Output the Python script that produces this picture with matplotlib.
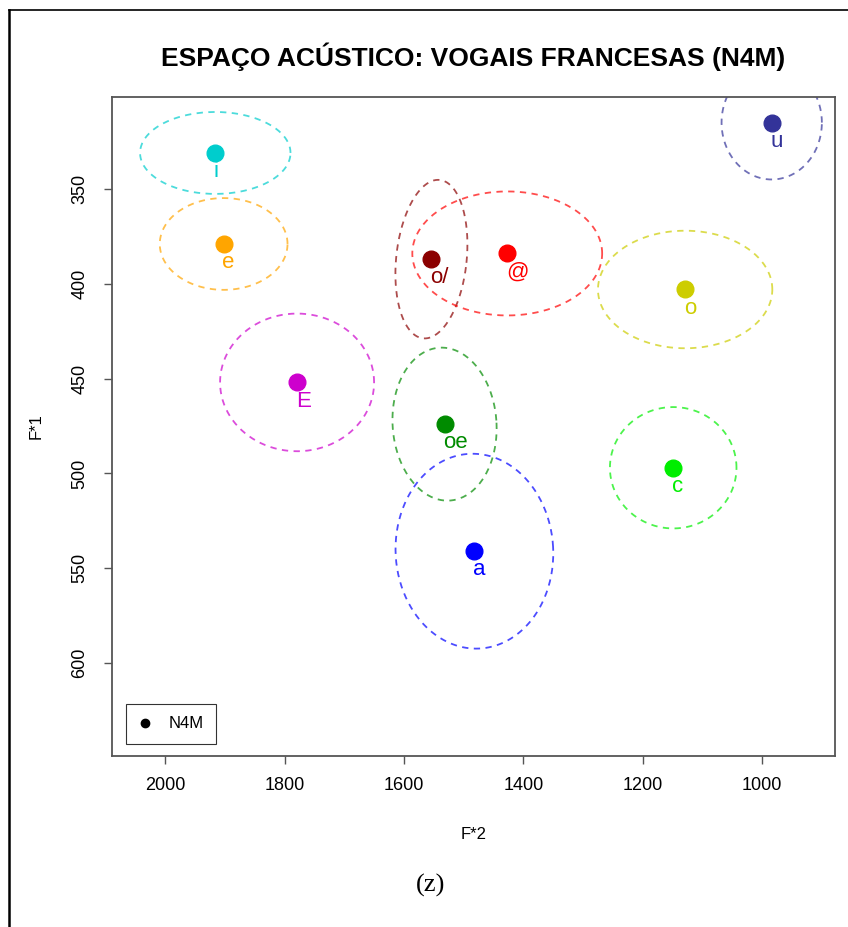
import numpy as np
import matplotlib.pyplot as plt
from matplotlib.lines import Line2D

plt.rcParams['font.family'] = ['Liberation Sans', 'DejaVu Sans']

# vowel means (F*2, F*1)
vowels = ["i", "e", "E", "oe", "a", "o/", "@", "o", "c", "u"]
f2 = [1916, 1902, 1779, 1532, 1482, 1554, 1427, 1129, 1149, 984]
f1 = [331, 379, 452, 474, 541, 387, 384, 403, 497, 315]

# dispersion ellipses: semi-axes in F2 / F1 units, tilt in degrees
ell_f2 = [126, 107, 129, 87, 132, 59, 159, 146, 106, 84]
ell_f1 = [21.6, 24.2, 36.3, 40.4, 51.4, 42, 32.7, 31, 32, 30]
ell_ang = [0, 0, 0, 4, 3, -6, 0, 0, 0, 0]

colors = ["#00CDCD", "#FFA500", "#CD00CD", "#008B00", "#0000FF",
          "#8B0000", "#FF0000", "#CDCD00", "#00EE00", "#333399"]

speaker = "N4M"

dpi = 100
fig = plt.figure(figsize=(848 / dpi, 927 / dpi), dpi=dpi)
ax = fig.add_axes([112 / 848, 171 / 927, 723 / 848, 659 / 927])

ax.set_xlim(2089, 878)
ax.set_ylim(649, 301.5)
ax.set_xticks([2000, 1800, 1600, 1400, 1200, 1000])
ax.set_yticks([350, 400, 450, 500, 550, 600])

for s in ax.spines.values():
    s.set_color("#555555")
    s.set_linewidth(1.3)
ax.tick_params(direction="out", length=6, width=1, color="#555555",
               labelsize=13, pad=9)
ax.tick_params(axis="y", pad=11)
for lab in ax.get_yticklabels():
    lab.set_rotation(90)
    lab.set_va("center")

ax.set_xlabel("F*2", fontsize=12, labelpad=24)
ax.set_ylabel("F*1", fontsize=12, labelpad=20)
ax.set_title("ESPAÇO ACÚSTICO: VOGAIS FRANCESAS (N4M)", fontsize=19,
             fontweight="bold", pad=22)

# ellipses, tilted in screen space
fig.canvas.draw()
t = np.linspace(0, 2 * np.pi, 300)
for x, y, a, b, ang, c in zip(f2, f1, ell_f2, ell_f1, ell_ang, colors):
    cx, cy = ax.transData.transform((x, y))
    ax_px = abs(ax.transData.transform((x + a, y))[0] - cx)
    by_px = abs(ax.transData.transform((x, y + b))[1] - cy)
    th = np.deg2rad(ang)
    ex = ax_px * np.cos(t)
    ey = by_px * np.sin(t)
    px = cx + ex * np.cos(th) - ey * np.sin(th)
    py = cy + ex * np.sin(th) + ey * np.cos(th)
    pts = ax.transData.inverted().transform(np.column_stack([px, py]))
    ax.plot(pts[:, 0], pts[:, 1], ls=(0, (3.5, 3)), lw=1.3, color=c, alpha=0.7)

for x, y, v, c in zip(f2, f1, vowels, colors):
    ax.plot(x, y, "o", ms=12, color=c, zorder=3)
    ax.annotate(v, (x, y), xytext=(-1, -13.5), textcoords="offset points",
                ha="left", va="center", fontsize=16, color=c)

leg = ax.legend([Line2D([], [], marker="o", ls="", color="black", ms=6)],
                [speaker], loc="lower left", fontsize=12, frameon=True,
                fancybox=False, edgecolor="black", borderpad=0.75,
                handlelength=0.8, handletextpad=1.0, borderaxespad=0,
                bbox_to_anchor=(14 / 723, 12 / 659))
leg.get_frame().set_linewidth(0.8)

fig.text(431 / 848, 1 - 885 / 927, "(z)", fontsize=19, ha="center",
         va="center", family=["Liberation Serif", "DejaVu Serif"])

# page frame
fig.add_artist(Line2D([9 / 848, 9 / 848], [0, 1 - 10 / 927], color="black",
                      lw=1.8, transform=fig.transFigure))
fig.add_artist(Line2D([9 / 848, 1], [1 - 10 / 927, 1 - 10 / 927],
                      color="black", lw=1.2, transform=fig.transFigure))

fig.savefig("out.png", dpi=dpi)
